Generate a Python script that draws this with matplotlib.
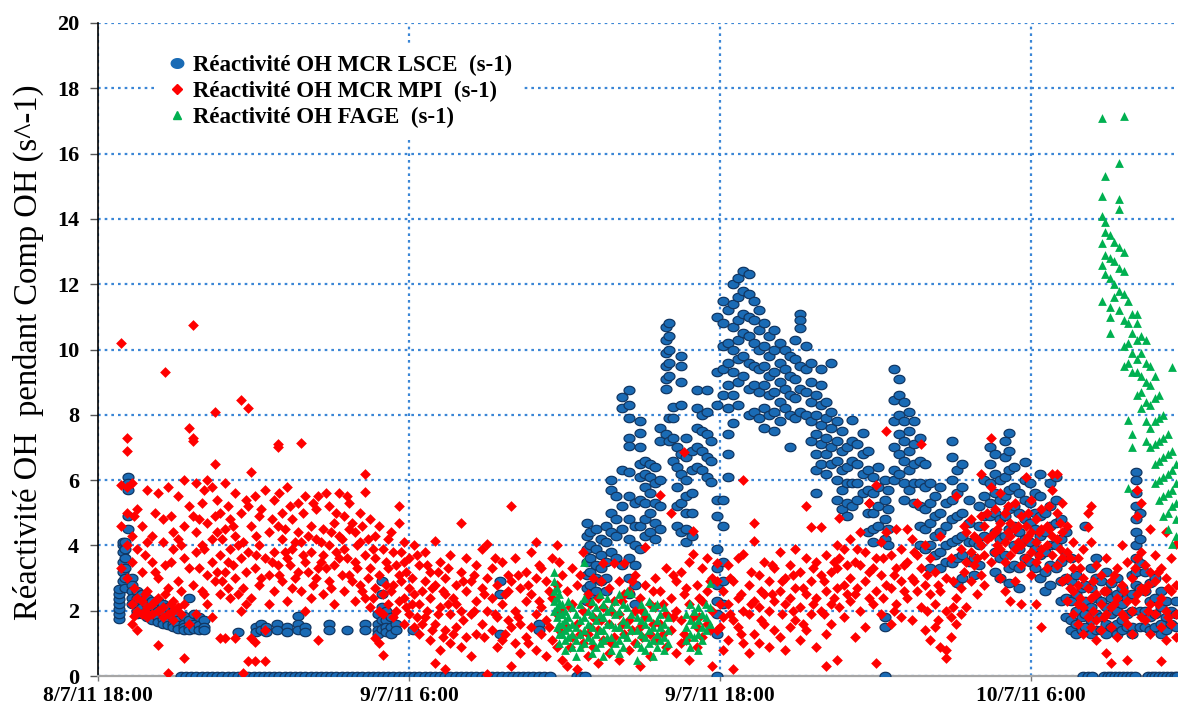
import numpy as np
import matplotlib
matplotlib.use("Agg")
import matplotlib.pyplot as plt
from matplotlib.path import Path
from matplotlib.lines import Line2D

# Time axis: hours elapsed since 8/7/11 18:00
tick_hours = [0, 12, 24, 36]
tick_labels = ["8/7/11 18:00", "9/7/11 6:00", "9/7/11 18:00", "10/7/11 6:00"]
y_ticks = list(range(0, 21, 2))

# OH reactivity, MCR LSCE (s-1): (hour, [readings around that hour])
lsce_cols = [
    (0.8, [1.75, 1.9, 2.05, 2.2, 2.35, 2.5, 2.65]),
    (0.95, [2.9, 3.2, 3.5, 3.8, 4.0, 4.1]),
    (1.05, [4.1, 3.9, 3.6, 3.3, 3.0, 2.7]),
    (1.15, [6.1, 5.9, 5.7, 4.9, 4.5]),
    (1.3, [3.0, 2.8, 2.6, 2.4, 2.2]),
    (1.5, [2.6, 2.4, 2.2, 2.0, 1.9]),
    (1.7, [2.5, 2.3, 2.1, 1.9]),
    (1.9, [2.4, 2.2, 2.0, 1.8]),
    (2.1, [2.3, 2.1, 1.9, 1.7]),
    (2.3, [2.3, 2.0, 1.8, 1.65]),
    (2.5, [2.2, 1.95, 1.75, 1.6]),
    (2.7, [2.1, 1.85, 1.65, 1.55]),
    (2.9, [2.0, 1.8, 1.6, 1.5]),
    (3.1, [1.9, 1.7, 1.55, 1.45]),
    (3.3, [1.85, 1.6, 1.5, 1.4]),
    (3.5, [2.4, 1.7, 1.5, 1.4]),
    (3.7, [1.9, 1.6, 1.45]),
    (3.9, [1.8, 1.55, 1.4]),
    (4.1, [1.7, 1.5, 1.4]),
    (5.4, [1.35]),
    (6.1, [1.5, 1.35]),
    (6.3, [1.6, 1.4]),
    (6.5, [1.5, 1.35]),
    (6.9, [1.6, 1.4]),
    (7.3, [1.5, 1.35]),
    (7.7, [1.85, 1.6, 1.4]),
    (8.0, [1.5, 1.35]),
    (8.9, [1.6, 1.4]),
    (9.6, [1.4]),
    (10.3, [1.6, 1.4]),
    (10.8, [1.9, 1.6, 1.4, 1.3]),
    (10.95, [2.9, 2.5, 2.1, 1.7, 1.45]),
    (11.1, [2.0, 1.7, 1.5, 1.35]),
    (11.3, [1.8, 1.5, 1.3]),
    (11.5, [1.6, 1.4]),
    (12.15, [1.4]),
    (15.5, [2.9, 2.5, 1.3]),
    (17.0, [1.6, 1.4]),
    (18.85, [4.7, 4.3, 3.9, 3.5, 3.1, 2.7, 2.3]),
    (19.0, [4.4, 4.0, 3.6, 3.2, 2.8, 2.5]),
    (19.2, [4.5, 3.9, 3.4, 3.0, 2.6]),
    (19.4, [4.2, 3.7, 3.3, 2.9]),
    (19.6, [4.6, 4.1, 3.5, 3.0, 2.6]),
    (19.8, [6.0, 5.7, 5.0, 4.4, 3.8]),
    (20.0, [5.5, 4.8, 4.3, 3.6]),
    (20.2, [8.55, 8.2, 6.3, 5.2, 4.5, 3.4]),
    (20.5, [8.75, 8.3, 7.9, 7.3, 7.05, 6.25, 5.5, 4.8, 4.2, 3.6, 3.0, 2.5]),
    (20.7, [5.3, 4.6, 4.0, 3.4, 2.8, 2.2]),
    (20.9, [7.8, 7.45, 7.0, 6.5, 6.1, 5.4, 4.6, 3.9]),
    (21.1, [6.6, 6.2, 5.8, 5.3, 4.8, 4.3]),
    (21.3, [6.5, 6.1, 5.6, 5.0, 4.4]),
    (21.5, [6.4, 5.9, 5.3, 4.7, 4.2]),
    (21.7, [7.6, 7.2, 6.0, 5.2, 4.5]),
    (21.9, [10.7, 10.3, 9.9, 9.5, 9.1, 8.8, 7.4]),
    (22.05, [10.8, 10.4, 10.0, 9.6, 9.2, 7.9, 7.2]),
    (22.2, [8.25, 7.9, 7.3, 6.6]),
    (22.35, [7.0, 6.4, 5.8, 5.2, 4.6]),
    (22.5, [9.8, 9.5, 9.0, 8.3, 6.8, 6.2, 5.3, 4.4]),
    (22.7, [7.3, 6.7, 6.0, 5.5, 5.0, 4.5, 4.1]),
    (22.9, [6.9, 6.3, 5.6, 5.0, 4.3]),
    (23.1, [8.75, 8.2, 7.6, 7.0, 6.4]),
    (23.3, [8.0, 7.5, 6.9, 6.3]),
    (23.5, [8.75, 8.1, 7.4, 6.7, 6.1]),
    (23.65, [7.2, 6.6, 5.95]),
    (23.9, [11.0, 9.3, 8.3, 5.4, 4.9, 3.9, 3.3, 2.8, 2.3, 1.9, 1.3]),
    (24.1, [11.5, 10.8, 10.1, 9.4, 8.6, 5.4, 4.6, 3.5, 2.9, 2.2]),
    (24.3, [11.2, 10.2, 9.6, 8.9, 8.2, 7.4, 6.8, 6.1]),
    (24.5, [12.0, 11.4, 10.7, 10.0, 9.3, 8.6, 7.75]),
    (24.7, [12.2, 11.6, 10.9, 10.3, 9.7, 9.0, 8.3]),
    (24.9, [12.4, 11.8, 11.1, 10.5, 9.8, 9.2]),
    (25.1, [12.3, 11.7, 11.0, 10.4, 9.6, 8.8, 8.0]),
    (25.3, [11.5, 10.9, 10.2, 9.5, 8.9, 8.1]),
    (25.5, [11.2, 10.6, 10.0, 9.4, 8.7, 7.9]),
    (25.7, [10.8, 10.1, 9.5, 8.9, 8.2, 7.6]),
    (25.9, [10.4, 9.8, 9.2, 8.6, 8.0]),
    (26.1, [10.6, 10.0, 9.3, 8.7, 8.1, 7.5]),
    (26.3, [10.2, 9.6, 9.0, 8.4, 7.8]),
    (26.5, [10.0, 9.4, 8.8, 8.2]),
    (26.7, [9.8, 9.2, 8.6, 8.0, 7.0]),
    (26.9, [10.3, 9.7, 9.1, 8.5, 7.9]),
    (27.1, [11.1, 10.9, 10.65, 9.5, 8.8, 8.1]),
    (27.3, [10.1, 9.4, 8.7, 8.0]),
    (27.5, [9.6, 9.0, 8.4, 7.8, 7.2]),
    (27.7, [8.6, 8.0, 7.4, 6.8, 6.3, 5.6]),
    (27.9, [9.4, 8.9, 8.3, 7.7, 7.1, 6.5]),
    (28.1, [8.4, 7.9, 7.3, 6.8, 6.2]),
    (28.3, [9.6, 8.1, 7.6, 7.0, 6.5]),
    (28.5, [7.8, 7.2, 6.6, 6.0, 5.4]),
    (28.7, [7.5, 6.9, 6.3, 5.7, 5.1]),
    (28.9, [7.0, 6.4, 5.9, 5.3, 4.9]),
    (29.1, [7.85, 7.2, 6.6, 5.9, 5.2]),
    (29.3, [7.1, 6.5, 5.9, 5.4]),
    (29.5, [7.45, 6.8, 6.2, 5.6]),
    (29.7, [6.9, 6.3, 5.7, 5.0, 4.4]),
    (29.9, [6.1, 5.6, 5.0, 4.5, 4.1]),
    (30.1, [6.4, 5.8, 5.2, 4.6]),
    (30.35, [6.0, 5.4, 4.8, 4.2, 1.8, 1.5]),
    (30.5, [5.7, 5.1, 4.5, 4.0]),
    (30.7, [9.4, 8.45, 7.8, 7.0, 6.3, 6.0]),
    (30.9, [9.1, 8.6, 8.0, 7.4, 6.8, 6.2]),
    (31.1, [8.4, 7.8, 7.2, 6.6, 5.9, 5.4]),
    (31.3, [8.1, 7.5, 6.9, 6.3, 5.7]),
    (31.5, [7.8, 7.1, 6.5, 5.9, 5.3]),
    (31.7, [7.3, 6.6, 5.9, 5.2, 4.6, 4.0]),
    (31.9, [6.5, 5.8, 5.1, 4.5, 3.9]),
    (32.1, [5.9, 5.3, 4.7, 4.0, 3.3]),
    (32.3, [5.5, 4.9, 4.3, 3.7]),
    (32.5, [5.8, 5.0, 4.4, 3.8, 3.3]),
    (32.7, [5.3, 4.6, 4.0, 3.5]),
    (32.95, [7.2, 6.7, 6.0, 5.4, 4.8, 4.1, 3.45]),
    (33.15, [6.3, 5.6, 4.9, 4.2, 3.6, 2.85]),
    (33.35, [6.5, 5.8, 5.0, 4.3, 3.7, 3.0]),
    (33.6, [5.4, 4.7, 4.1, 3.5]),
    (33.8, [4.1, 3.6, 3.1]),
    (34.0, [5.2, 4.6, 4.0, 3.4]),
    (34.2, [6.0, 5.5, 4.9, 4.3]),
    (34.4, [7.0, 6.5, 5.9, 5.3, 4.9]),
    (34.6, [6.8, 6.2, 5.6, 5.0, 4.4, 3.8, 3.2]),
    (34.8, [6.0, 5.4, 4.8, 4.2, 3.6, 3.0]),
    (35.0, [7.2, 6.7, 6.1, 5.5, 4.9, 4.3, 3.7]),
    (35.15, [7.45, 6.9, 6.3, 5.7, 5.1, 4.5, 3.3, 2.85]),
    (35.35, [6.4, 5.8, 5.2, 4.6, 4.0, 3.4]),
    (35.55, [5.6, 5.0, 4.4, 3.9, 3.3, 2.7]),
    (35.75, [6.55, 6.0, 5.4, 4.8, 4.2, 3.6]),
    (35.95, [5.9, 5.3, 4.7, 4.1, 3.5]),
    (36.15, [5.6, 5.0, 4.5, 3.9, 3.3]),
    (36.35, [6.2, 5.5, 4.9, 4.3, 3.7, 3.0]),
    (36.55, [5.0, 4.4, 3.8, 3.2, 2.6]),
    (36.75, [5.9, 5.2, 4.6, 4.0, 3.4, 2.8]),
    (36.95, [6.1, 5.4, 4.7, 4.0, 3.3]),
    (37.15, [4.8, 4.2, 3.5, 2.9, 2.3]),
    (37.35, [4.4, 3.7, 3.0, 2.4, 1.8]),
    (37.55, [3.6, 2.9, 2.3, 1.7, 1.4]),
    (37.75, [3.1, 2.5, 2.0, 1.6, 1.3]),
    (37.95, [2.7, 2.2, 1.8, 1.4]),
    (38.1, [4.6, 2.8, 2.3, 1.9, 1.5]),
    (38.3, [3.3, 2.7, 2.1, 1.7, 1.3]),
    (38.5, [3.6, 3.0, 2.4, 1.9, 1.4]),
    (38.7, [2.9, 2.3, 1.8, 1.4]),
    (38.9, [3.2, 2.6, 2.1, 1.6, 1.3]),
    (39.1, [2.85, 2.4, 1.9, 1.5]),
    (39.3, [3.0, 2.5, 2.0, 1.6, 1.3]),
    (39.5, [2.7, 2.2, 1.7, 1.4]),
    (39.7, [2.4, 1.9, 1.5]),
    (39.9, [3.1, 2.5, 2.0, 1.5, 1.3]),
    (40.05, [6.25, 6.0, 5.6, 5.2, 4.8, 4.4, 4.0, 3.6, 3.2, 2.8]),
    (40.2, [5.0, 4.2, 3.45, 2.7, 2.0, 1.5]),
    (40.4, [3.2, 2.6, 2.0, 1.5]),
    (40.6, [2.85, 2.3, 1.8, 1.4]),
    (40.8, [3.0, 2.4, 1.9, 1.5]),
    (41.0, [2.6, 2.1, 1.6, 1.3]),
    (41.2, [2.3, 1.8, 1.4]),
    (41.4, [2.0, 1.6]),
    (41.6, [2.3, 1.9, 1.5]),
]

# LSCE readings logged as 0
lsce_zero_hours = [
    3.2, 3.4, 3.6, 3.8, 4.0, 4.2, 4.4, 4.6, 4.8, 5.0, 5.2, 5.4, 5.6, 5.8,
    6.0, 6.2, 6.4, 6.6, 6.8, 7.0, 7.2, 7.4, 7.6, 7.8, 8.0, 8.2, 8.4, 8.6,
    8.8, 9.0, 9.2, 9.4, 9.6, 9.8, 10.0, 10.2, 10.4, 10.6, 10.8, 11.0, 11.2,
    11.4, 11.6, 11.8, 12.0, 12.2, 12.4, 12.6, 12.8, 13.0, 13.2, 13.4, 13.6,
    13.8, 14.0, 14.2, 14.4, 14.6, 14.8, 15.0, 15.2, 15.4, 15.6, 15.8, 16.0,
    16.2, 16.4, 16.6, 16.8, 17.0, 17.2, 17.45,
    18.5, 18.65, 18.8, 23.9, 30.35, 38.0, 38.2, 38.35,
    38.8, 38.95, 39.1, 39.25, 39.4, 39.55, 39.7, 39.85, 40.0,
    40.5, 40.65, 40.8, 40.95, 41.1, 41.25, 41.4, 41.55, 41.65,
]

# OH reactivity, MCR MPI (s-1)
mpi_cols = [
    (0.9, [10.2, 5.85, 4.6, 3.3]), (1.1, [7.3, 6.9, 5.8, 5.0, 4.0, 3.0]),
    (1.3, [5.9, 4.3, 3.5, 2.2, 1.6]), (1.5, [5.1, 3.9, 2.4, 2.0, 1.4]),
    (1.7, [4.6, 3.2, 2.3, 1.9]), (1.9, [5.7, 4.1, 2.6, 2.1, 1.8]),
    (2.1, [4.3, 3.5, 2.2, 1.9]), (2.3, [5.6, 3.0, 2.4, 2.0, 0.95]),
    (2.5, [4.8, 4.1, 2.1, 1.8]), (2.6, [9.3, 3.4, 2.5]),
    (2.7, [5.8, 2.7, 1.9, 0.1]), (2.9, [4.4, 3.9, 2.3, 2.0, 1.7]),
    (3.1, [5.5, 4.2, 2.9, 2.1]), (3.3, [6.0, 4.6, 3.6, 2.2, 0.55]),
    (3.5, [7.6, 5.2, 3.3, 1.6]), (3.65, [10.75, 7.3, 7.2, 4.9, 2.8]),
    (3.8, [5.9, 4.4, 3.8, 1.9]), (4.0, [5.3, 4.0, 2.6]),
    (4.2, [6.0, 4.7, 3.1, 2.2]), (4.4, [5.8, 4.2, 3.5, 1.8]),
    (4.5, [8.1, 6.5, 4.9, 2.9]), (4.7, [5.0, 3.7, 2.5, 1.15]),
    (4.9, [5.9, 4.5, 3.2, 1.15]), (5.1, [4.8, 3.9, 2.4]),
    (5.3, [5.6, 4.3, 3.0, 1.15]), (5.5, [8.45, 5.0, 3.6, 2.0]),
    (5.6, [4.1, 2.7, 0.1]), (5.8, [8.2, 5.2, 3.8, 0.45]),
    (5.9, [6.25, 4.6, 2.4, 1.15]), (6.05, [5.5, 3.3, 1.05, 0.45]),
    (6.2, [4.9, 4.0, 2.8]), (6.45, [5.7, 3.6, 1.4, 0.45]),
    (6.6, [4.4, 3.1, 2.2]), (6.8, [5.4, 3.8, 2.6]),
    (6.95, [7.1, 7.0, 4.6, 3.4]), (7.1, [5.0, 4.2, 2.9]),
    (7.3, [5.8, 3.6, 2.3]), (7.5, [4.8, 3.9, 2.7]),
    (7.7, [5.3, 4.4, 3.2]), (7.85, [7.15, 4.1, 2.6]),
    (8.0, [5.5, 3.5, 2.0]), (8.2, [4.6, 3.8, 2.4]),
    (8.4, [5.1, 4.2, 3.0]), (8.5, [5.5, 3.3, 1.1]),
    (8.7, [4.5, 3.7, 2.5]), (8.9, [5.2, 4.0, 2.9]),
    (9.1, [4.7, 3.4, 2.2]), (9.3, [5.6, 4.3, 3.6]),
    (9.5, [4.9, 3.9, 2.6]), (9.7, [5.3, 4.5, 3.1]),
    (9.9, [4.4, 3.5, 2.3]), (10.1, [5.0, 4.1, 2.8]),
    (10.3, [6.2, 5.65, 3.7, 2.4]), (10.5, [4.8, 3.3, 2.1]),
    (10.7, [4.3, 3.6, 2.7, 1.15]), (10.85, [4.6, 3.1, 2.0, 1.0]),
    (11.0, [3.9, 2.5, 1.9, 0.65]), (11.2, [4.2, 3.3, 2.2]),
    (11.4, [3.8, 2.8, 1.8]), (11.6, [5.2, 4.7, 3.1, 2.3]),
    (11.8, [4.1, 3.5, 2.4, 1.6]), (12.0, [3.6, 2.7, 1.9]),
    (12.2, [4.0, 2.5, 1.5]), (12.4, [3.4, 2.2, 1.3]),
    (12.6, [3.8, 2.9, 1.8]), (12.8, [3.2, 2.4, 1.1]),
    (13.0, [4.15, 2.8, 1.6, 0.4]), (13.2, [3.5, 2.1, 0.8]),
    (13.4, [3.0, 2.5, 1.4, 0.2]), (13.6, [3.7, 1.9, 1.0]),
    (13.8, [2.8, 2.2, 1.5]), (14.0, [4.7, 3.2, 2.0, 0.9]),
    (14.2, [3.6, 2.6, 1.2]), (14.4, [2.9, 1.9, 0.6]),
    (14.6, [3.4, 2.3, 1.3]), (14.8, [3.9, 2.7, 1.6]),
    (15.0, [4.05, 3.0, 2.0, 0.05]), (15.2, [3.3, 2.4, 1.4]),
    (15.4, [2.8, 1.8, 0.9]), (15.6, [3.5, 2.2, 1.1]),
    (15.8, [3.1, 2.6, 1.7]), (15.95, [5.2, 2.9, 1.5, 0.3]),
    (16.1, [3.6, 2.0, 1.0]), (16.3, [2.7, 1.6, 0.7]),
    (16.5, [3.2, 2.3, 1.2]), (16.7, [3.8, 2.5, 1.5]),
    (16.9, [4.1, 3.0, 1.9, 0.8]), (17.1, [3.3, 2.1, 1.3]),
    (17.3, [2.9, 1.7, 0.6]), (17.5, [3.6, 2.4, 1.1]),
    (17.7, [4.0, 2.8, 1.9, 0.9]), (17.9, [3.1, 2.0, 0.5]),
    (18.1, [2.6, 1.5, 0.3]), (18.3, [3.3, 2.2, 1.2]),
    (18.5, [2.8, 1.6, 0.2]), (18.7, [3.8, 2.0, 1.0]),
    (18.9, [2.5, 1.3, 0.6]), (19.1, [3.0, 1.8, 0.9]),
    (19.3, [2.4, 1.4, 0.4]), (19.5, [3.45, 2.1, 1.1]),
    (19.7, [2.7, 1.6, 0.7]), (19.9, [3.45, 2.3, 1.2]),
    (20.1, [2.9, 1.9, 0.5]), (20.3, [3.45, 2.5, 1.3]),
    (20.5, [2.6, 1.7, 0.8]), (20.7, [3.1, 2.0, 1.0]),
    (20.9, [2.4, 1.5, 0.3]), (21.1, [3.95, 2.8, 1.8]),
    (21.3, [2.2, 1.3, 0.6]), (21.5, [3.0, 2.1, 1.1]),
    (21.7, [5.55, 2.6, 1.6]), (21.9, [3.3, 1.9, 0.9]),
    (22.1, [5.0, 2.4, 1.4]), (22.3, [2.9, 2.0, 0.7]),
    (22.5, [3.2, 1.7, 1.0]), (22.6, [6.85, 2.5, 1.3]),
    (22.8, [3.5, 2.2, 0.5]), (22.95, [4.45, 3.75, 1.8]),
    (23.1, [2.8, 1.5, 0.9]), (23.3, [3.3, 2.3, 1.2]),
    (23.5, [3.6, 2.6, 1.6]), (23.7, [3.0, 2.0, 0.3]),
    (23.9, [3.45, 2.9, 1.4]), (24.1, [2.6, 1.8, 0.8]),
    (24.3, [3.4, 2.2, 1.1]), (24.5, [2.9, 1.7, 0.2]),
    (24.7, [3.6, 2.4, 1.5]), (24.9, [6.0, 3.75, 2.0, 1.0]),
    (25.1, [2.8, 1.9, 0.7]), (25.3, [4.7, 4.15, 2.3, 1.3]),
    (25.5, [3.1, 2.1, 1.0]), (25.7, [3.5, 2.5, 1.6]),
    (25.9, [2.9, 2.0, 0.9]), (26.1, [3.3, 2.3, 1.4]),
    (26.3, [3.8, 2.6, 1.2]), (26.5, [3.0, 2.2, 0.8]),
    (26.7, [3.4, 2.4, 1.5]), (26.9, [3.9, 2.7, 1.7]),
    (27.1, [3.2, 2.1, 1.1]), (27.3, [5.2, 3.6, 2.5, 1.4]),
    (27.5, [4.55, 2.9, 1.9]), (27.7, [3.5, 2.4, 0.9]),
    (27.9, [4.55, 3.1, 2.0]), (28.1, [3.7, 2.6, 1.3, 0.3]),
    (28.3, [3.2, 2.2, 1.6]), (28.5, [4.0, 3.3, 2.7, 0.5]),
    (28.6, [4.85, 3.6, 2.1]), (28.8, [3.9, 2.8, 1.8]),
    (29.0, [4.2, 3.0, 2.3]), (29.2, [3.5, 2.5, 1.2]),
    (29.4, [4.4, 3.4, 2.0]), (29.6, [3.8, 2.9, 1.5]),
    (29.75, [5.3, 5.3, 3.2, 2.4]), (30.0, [5.85, 3.6, 2.6, 0.4]),
    (30.2, [4.1, 3.1, 1.9]), (30.4, [7.5, 4.4, 2.8]),
    (30.6, [3.7, 2.7, 1.6]), (30.8, [4.5, 3.3, 2.2]),
    (31.0, [3.9, 2.9, 1.8]), (31.2, [4.5, 3.5, 2.4]),
    (31.4, [4.2, 3.0, 1.7]), (31.6, [5.3, 3.7, 2.6]),
    (31.75, [7.1, 3.3, 2.1]), (31.9, [4.0, 2.8, 1.4]),
    (32.1, [3.6, 2.5, 1.1]), (32.3, [3.2, 2.2, 1.5]),
    (32.5, [4.3, 2.6, 0.9]), (32.7, [3.0, 2.0, 0.8, 0.55]),
    (32.9, [3.6, 1.8, 1.2]), (33.1, [5.5, 2.4, 1.6]),
    (33.3, [3.9, 2.7, 1.9]), (33.5, [4.4, 3.5, 2.1]),
    (33.7, [4.8, 3.8, 2.9]), (33.9, [4.2, 3.6, 2.5]),
    (34.05, [6.2, 4.9, 4.0, 3.1]), (34.2, [4.6, 3.7, 2.8]),
    (34.45, [7.3, 5.8, 4.3, 3.5]), (34.6, [5.1, 4.4, 3.8]),
    (34.8, [5.6, 4.7, 3.9, 3.0]), (35.0, [5.0, 4.1, 3.5, 2.6]),
    (35.2, [4.7, 4.3, 3.7, 2.3]), (35.4, [5.3, 4.5, 3.9, 2.9]),
    (35.6, [4.9, 4.0, 3.4, 2.2]), (35.8, [6.1, 4.6, 4.2, 3.6]),
    (36.0, [5.4, 4.4, 3.8, 3.1]), (36.2, [4.8, 4.1, 3.5, 2.2]),
    (36.4, [5.1, 4.5, 3.9, 1.5]), (36.6, [4.6, 4.0, 3.3]),
    (36.8, [6.2, 5.7, 4.3, 3.7]), (37.0, [6.2, 5.0, 4.2, 3.4]),
    (37.2, [5.3, 4.4, 3.6, 2.9]), (37.4, [4.6, 3.8, 3.0, 2.3]),
    (37.6, [4.1, 3.3, 2.6, 1.9]), (37.8, [3.6, 2.8, 2.2, 1.6]),
    (38.0, [3.9, 3.0, 2.1, 1.3]), (38.2, [5.0, 4.55, 2.7, 1.8]),
    (38.3, [5.2, 4.1, 2.4, 1.5]), (38.5, [3.4, 2.5, 1.7, 1.1]),
    (38.7, [3.1, 2.2, 1.4]), (38.9, [3.6, 2.6, 1.9, 0.7]),
    (39.1, [2.9, 2.1, 1.5, 0.4]), (39.3, [3.3, 2.4, 1.2]),
    (39.5, [4.0, 2.8, 1.9]), (39.7, [3.5, 2.3, 1.6, 0.5]),
    (39.9, [3.0, 2.0, 1.3]), (40.1, [5.7, 4.9, 3.6, 2.5]),
    (40.25, [5.3, 3.8, 2.7, 1.8]), (40.4, [3.4, 2.6, 1.7]),
    (40.6, [4.5, 3.2, 2.2, 1.3]), (40.8, [3.7, 2.9, 1.9]),
    (41.0, [3.3, 2.4, 1.5, 0.45]), (41.2, [4.4, 3.0, 2.0, 1.1]),
    (41.4, [3.6, 2.6, 1.6]), (41.6, [4.05, 2.8, 1.9, 1.2]),
]

# further MPI readings between the hours above
mpi_extra_cols = [
    (1.4, [4.9, 2.7, 1.85]), (1.8, [3.7, 2.5, 2.0]), (2.2, [5.0, 3.2, 2.3]),
    (2.8, [4.9, 3.5, 2.2]), (3.2, [4.0, 2.6, 1.9]), (3.9, [4.8, 3.3]),
    (4.1, [5.7, 3.9, 2.5]), (4.6, [5.4, 4.4, 3.2]), (4.8, [4.2, 2.9]),
    (5.0, [5.2, 3.5, 2.7]), (5.2, [4.6, 3.4]), (5.4, [4.0, 2.5]),
    (5.7, [5.4, 3.2, 2.2]), (6.1, [4.3, 3.7]), (6.3, [5.1, 3.0]),
    (6.7, [4.8, 3.5]), (7.0, [5.6, 3.1]), (7.2, [4.5, 3.8]),
    (7.4, [5.2, 3.4]), (7.6, [4.1, 3.0]), (7.9, [5.0, 3.7]),
    (8.1, [4.3, 3.2]), (8.3, [5.3, 2.8]), (8.6, [4.1, 3.5]),
    (8.8, [5.6, 3.3]), (9.0, [4.4, 2.7]), (9.2, [5.0, 3.8]),
    (9.4, [4.2, 3.1]), (9.6, [5.5, 3.6]), (9.8, [4.7, 2.9]),
    (10.0, [4.0, 3.3]), (10.2, [4.6, 2.6]), (10.4, [4.2, 3.0]),
    (10.6, [3.9, 2.4]), (11.1, [3.5, 2.8]), (11.3, [4.4, 2.6]),
    (11.5, [3.4, 2.0]), (11.7, [3.8, 2.9]), (11.9, [3.2, 2.1]),
    (12.1, [3.0, 2.2]), (12.3, [3.7, 1.8]), (12.5, [2.6, 1.6]),
    (12.7, [3.4, 2.0]), (12.9, [2.7, 1.4]), (13.1, [3.2, 1.9]),
    (13.3, [2.6, 1.2]), (13.5, [3.3, 2.2]), (13.7, [2.4, 1.3]),
    (14.1, [2.9, 1.7]), (14.5, [3.1, 2.0]), (14.9, [2.5, 1.2]),
    (15.3, [3.6, 1.9]), (15.7, [2.5, 1.3]), (16.2, [3.1, 1.8]),
    (16.6, [2.8, 1.0]), (17.0, [3.4, 2.3]), (17.4, [2.6, 1.5]),
    (17.8, [3.5, 1.4]), (18.2, [2.1, 0.9]), (18.6, [3.1, 1.3]),
    (19.0, [2.2, 1.5]), (19.4, [2.9, 1.7]), (19.8, [2.0, 1.0]),
    (20.2, [2.3, 1.6]), (20.6, [2.9, 1.4]), (21.0, [2.0, 1.2]),
    (21.4, [2.6, 1.6]), (21.8, [2.2, 1.3]), (22.2, [3.1, 1.8]),
    (22.7, [2.7, 1.1]), (23.2, [2.4, 1.8]), (23.6, [2.9, 1.4]),
    (24.0, [2.2, 1.5]), (24.4, [3.0, 1.9]), (24.8, [2.5, 1.3]),
    (25.2, [3.2, 2.2]), (25.6, [2.6, 1.7]), (26.0, [3.4, 2.5]),
    (26.4, [2.9, 1.9]), (26.8, [3.1, 2.0]), (27.2, [2.7, 1.6]),
    (27.6, [3.3, 2.2]), (28.0, [2.9, 1.9]), (28.4, [3.5, 2.4]),
    (28.9, [3.4, 2.5]), (29.3, [3.9, 2.7]), (29.9, [3.3, 2.2]),
    (30.3, [3.6, 2.4]), (30.7, [3.1, 2.0]), (31.1, [3.4, 2.6]),
    (31.5, [3.8, 2.9]), (32.0, [3.1, 2.0]), (32.4, [2.8, 1.7]),
    (33.0, [2.9, 2.1]), (33.4, [4.6, 3.2]), (33.8, [4.3, 3.4]),
    (34.3, [5.0, 4.2]), (34.7, [4.5, 4.0]), (35.1, [5.2, 4.4]),
    (35.5, [4.6, 4.1]), (35.9, [5.0, 4.3]), (36.3, [4.4, 3.7]),
    (36.7, [5.2, 4.5]), (37.1, [4.7, 3.9]), (37.5, [3.6, 2.7]),
    (37.9, [3.3, 2.4]), (38.4, [2.9, 2.0]), (38.8, [2.6, 1.8]),
    (39.2, [3.1, 2.2]), (39.6, [2.6, 1.8]), (40.0, [3.3, 2.3]),
    (40.5, [2.8, 2.0]), (40.9, [3.2, 2.2]), (41.3, [2.7, 1.8]),
]

# OH reactivity, FAGE (s-1)
fage_cols = [
    (17.6, [3.2, 2.9, 2.6, 2.3, 2.0]), (17.7, [2.7, 2.4, 2.1, 1.8, 1.5]),
    (17.8, [2.5, 2.2, 1.9, 1.6, 1.3, 1.0]), (17.9, [2.2, 1.9, 1.6, 1.3]),
    (18.0, [2.0, 1.7, 1.4, 1.1, 0.8]), (18.15, [2.3, 1.8, 1.5, 1.2]),
    (18.3, [2.1, 1.6, 1.3, 0.9]), (18.45, [1.9, 1.5, 1.1, 0.6]),
    (18.6, [2.2, 1.7, 1.3, 0.9]), (18.75, [3.5, 2.4, 1.8, 1.4, 1.0]),
    (18.9, [2.0, 1.6, 1.2]), (19.05, [2.3, 1.9, 1.5, 1.1, 0.7]),
    (19.2, [2.1, 1.7, 1.3, 0.9]), (19.35, [2.5, 1.9, 1.4, 1.0]),
    (19.5, [2.2, 1.8, 1.4, 1.1, 0.6]), (19.65, [2.4, 2.0, 1.6, 1.2]),
    (19.8, [2.1, 1.6, 1.2, 0.8]), (19.95, [2.3, 1.9, 1.5, 1.0]),
    (20.1, [2.5, 2.0, 1.5, 1.1, 0.7]), (20.25, [2.2, 1.7, 1.3, 0.9]),
    (20.4, [2.6, 2.1, 1.6, 1.2]), (20.55, [2.55, 1.9, 1.4]),
    (20.8, [1.8, 1.4, 1.0, 0.5]), (20.95, [2.2, 1.7, 1.3, 0.9]),
    (21.1, [2.0, 1.6, 1.2, 0.8]), (21.25, [2.3, 1.8, 1.4, 1.0]),
    (21.4, [2.1, 1.5, 1.1, 0.6]), (21.55, [2.2, 1.7, 1.3, 0.9]),
    (21.7, [1.9, 1.5, 1.1]), (21.85, [2.1, 1.6, 1.2, 0.8]),
    (22.0, [1.8, 1.4, 1.0]), (22.7, [1.9, 1.5, 1.1]),
    (22.85, [2.2, 1.7, 1.3, 0.9]), (23.0, [2.0, 1.6, 1.2]),
    (23.15, [2.1, 1.7, 1.3, 0.8]), (23.3, [1.9, 1.5, 1.1]),
    (23.45, [2.2, 1.8, 1.4]), (23.6, [2.85, 2.1, 1.6]),
    (38.75, [17.1, 14.7, 14.1, 13.25, 12.6, 11.5]),
    (38.85, [15.3, 13.9, 13.6, 12.9, 12.3]),
    (39.05, [13.5, 12.8, 12.2, 11.3, 11.0, 10.5]),
    (39.2, [13.3, 12.7, 12.0, 11.6]),
    (39.4, [15.7, 14.6, 14.3, 13.15, 12.5, 11.8, 11.2]),
    (39.6, [17.15, 13.0, 12.4, 11.7, 10.9, 10.1, 9.5]),
    (39.75, [11.5, 10.8, 10.2, 9.6, 7.85, 5.75]),
    (39.9, [11.1, 10.5, 9.9, 9.3, 7.4, 7.0]),
    (40.1, [11.1, 10.8, 10.3, 9.7, 9.3, 8.6]),
    (40.25, [10.4, 9.9, 9.2, 8.7, 8.2]),
    (40.45, [10.3, 9.6, 9.0, 8.4, 7.8, 7.2]),
    (40.6, [9.5, 8.9, 8.3, 7.6, 7.0]),
    (40.8, [9.2, 8.5, 7.8, 7.1, 6.5, 5.9]),
    (40.95, [8.6, 7.9, 7.2, 6.6, 6.0, 5.4]),
    (41.1, [8.0, 7.3, 6.7, 6.1, 5.5, 4.9]),
    (41.3, [7.4, 6.8, 6.2, 5.6, 5.0, 4.5]),
    (41.45, [9.45, 6.9, 6.3, 5.7, 5.2, 4.05]),
    (41.6, [6.5, 5.9, 5.3, 4.8, 4.3]),
]

series_labels = [
    "Réactivité OH MCR LSCE  (s-1)",
    "Réactivité OH MCR MPI  (s-1)",
    "Réactivité OH FAGE  (s-1)",
]
y_label = "Réactivité OH  pendant Comp OH (s^-1)"


def expand(*col_lists):
    hrs, vals = [], []
    for cols in col_lists:
        for h, vs in cols:
            hrs.extend([h] * len(vs))
            vals.extend(vs)
    return np.array(hrs), np.array(vals)


lsce_h, lsce_v = expand(lsce_cols)
lsce_h = np.concatenate([lsce_h, lsce_zero_hours])
lsce_v = np.concatenate([lsce_v, np.zeros(len(lsce_zero_hours))])
mpi_h, mpi_v = expand(mpi_cols, mpi_extra_cols)
fage_h, fage_v = expand(fage_cols)

# flattened ellipse marker for the LSCE points
theta = np.linspace(0, 2 * np.pi, 41)
ellipse = Path(np.column_stack([1.3 * np.cos(theta), np.sin(theta)]), closed=True)

BLUE, BLUE_EDGE = "#1a6bb5", "#123763"
RED = "#ff0000"
GREEN = "#00b050"
GRID = "#3a86d6"
SERIF_BOLD = dict(family="Liberation Serif", weight="bold")

fig = plt.figure(figsize=(11.78, 7.09), dpi=100)
ax = fig.add_axes([98 / 1178, 33 / 709, 1080 / 1178, 653 / 709])

ax.scatter(lsce_h, lsce_v, s=62, marker=ellipse, facecolor=BLUE,
           edgecolor=BLUE_EDGE, linewidth=0.9, zorder=3)
ax.scatter(mpi_h, mpi_v, s=30, marker="D", color=RED, linewidth=0, zorder=4)
ax.scatter(fage_h, fage_v, s=40, marker="^", color=GREEN, linewidth=0, zorder=5)

ax.set_xlim(0, 41.67)
ax.set_ylim(0, 20)
ax.set_xticks(tick_hours)
ax.set_xticklabels(tick_labels)
ax.set_yticks(y_ticks)

ax.grid(True, color=GRID, linestyle=(0, (1.2, 1.8)), linewidth=1.6, zorder=1)
ax.set_axisbelow(True)

for side in ("top", "right"):
    ax.spines[side].set_visible(False)
ax.spines["left"].set_color("black")
ax.spines["left"].set_linewidth(1.2)
ax.spines["bottom"].set_color("#a6a6a6")
ax.spines["bottom"].set_linewidth(1.6)

ax.tick_params(axis="y", direction="out", length=5.5, width=1, color="#555555",
               pad=8)
ax.tick_params(axis="x", direction="out", length=3.5, width=1, color="#777777",
               pad=4)
for lab in ax.get_yticklabels():
    lab.set_fontfamily("Liberation Serif")
    lab.set_fontweight("bold")
    lab.set_fontsize(16)
for lab in ax.get_xticklabels():
    lab.set_fontfamily("Liberation Serif")
    lab.set_fontweight("bold")
    lab.set_fontsize(15.5)

fig.text(28 / 1178, 1 - 352 / 709, y_label, rotation=90, ha="center",
         va="center", family="Liberation Serif", fontsize=23.5)

handles = [
    Line2D([], [], linestyle="none", marker=ellipse, markersize=9,
           markerfacecolor=BLUE, markeredgecolor=BLUE),
    Line2D([], [], linestyle="none", marker="D", markersize=5.5,
           markerfacecolor=RED, markeredgecolor=RED),
    Line2D([], [], linestyle="none", marker="^", markersize=6,
           markerfacecolor=GREEN, markeredgecolor=GREEN),
]
leg = ax.legend(handles, series_labels, loc="upper left",
                bbox_to_anchor=(0.043, 0.986), frameon=True, fancybox=False,
                facecolor="white", edgecolor="none", framealpha=1,
                handlelength=0.8, handletextpad=0.3, labelspacing=0.2,
                borderpad=0.5, prop=dict(SERIF_BOLD, size=16.5))
leg.set_zorder(6)

fig.savefig("out.png", dpi=100)
